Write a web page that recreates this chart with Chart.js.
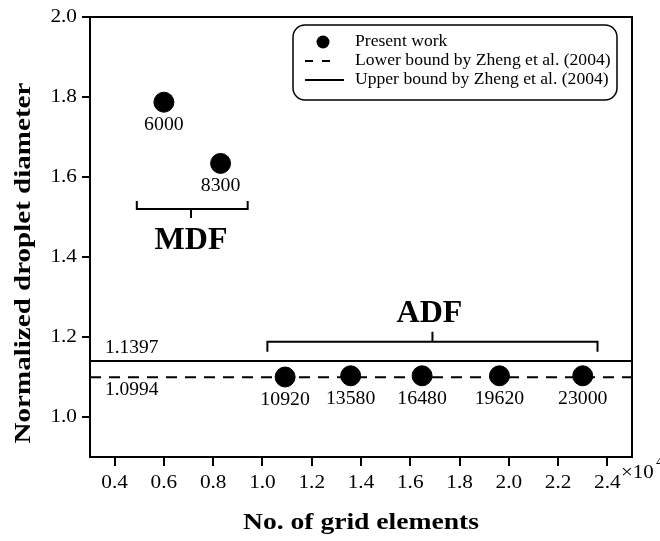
<!DOCTYPE html>
<html>
<head>
<meta charset="utf-8">
<script src="https://cdn.jsdelivr.net/npm/chart.js@4/dist/chart.umd.min.js"></script>
<style>
  html, body { margin: 0; padding: 0; background: #fff; }
  #wrap { width: 660px; height: 541px; position: relative; }
</style>
</head>
<body>
<div id="wrap"><canvas id="chart"></canvas></div>
<script>
// data
var gridElements = [6000, 8300, 10920, 13580, 16480, 19620, 23000];
var diameter = [1.787, 1.634, 1.100, 1.103, 1.103, 1.103, 1.103];
var pointLabels = ['6000', '8300', '10920', '13580', '16480', '19620', '23000'];
var lowerBound = 1.0994;
var upperBound = 1.1397;
var xRange = [3000, 25000];
var yRange = [0.9, 2.0];
var xTickValues = [4000, 6000, 8000, 10000, 12000, 14000, 16000, 18000, 20000, 22000, 24000];
var yTickValues = [1.0, 1.2, 1.4, 1.6, 1.8, 2.0];
var seriesNames = ['Present work', 'Lower bound by Zheng et al. (2004)', 'Upper bound by Zheng et al. (2004)'];

var SERIF = '"Liberation Serif", "Times New Roman", serif';

// brackets, in data units
var mdfBracket = { x0: 4900, x1: 9400, y: 1.52, mid: 7100, up: true, label: 'MDF' };
var adfBracket = { x0: 10200, x1: 23600, y: 1.188, mid: 16900, up: false, label: 'ADF' };

// the original lettering is a bit wider than Liberation Serif, so stretch it
function text(ctx, str, x, y, font, align, sx) {
    ctx.save();
    ctx.font = font;
    ctx.textAlign = align;
    ctx.textBaseline = 'middle';
    ctx.translate(x, y);
    ctx.scale(sx || 1, 1);
    ctx.fillText(str, 0, 0);
    ctx.restore();
}

var extras = {
    id: 'extras',
    afterDatasetsDraw: function (chart) {
        var ctx = chart.ctx;
        var xs = chart.scales.x, ys = chart.scales.y;
        var area = chart.chartArea;
        ctx.save();
        ctx.fillStyle = '#000';

        // full frame
        ctx.strokeStyle = '#000';
        ctx.lineWidth = 2;
        ctx.strokeRect(area.left, area.top, area.right - area.left, area.bottom - area.top);

        // tick labels, placed by the scales
        xs.ticks.forEach(function (t) {
            text(ctx, (t.value / 10000).toFixed(1), xs.getPixelForValue(t.value), area.bottom + 26, '19px ' + SERIF, 'center', 1.12);
        });
        ys.ticks.forEach(function (t) {
            text(ctx, t.value.toFixed(1), area.left - 13, ys.getPixelForValue(t.value), '19px ' + SERIF, 'right', 1.12);
        });

        // point labels under each dot
        var meta = chart.getDatasetMeta(0);
        meta.data.forEach(function (pt, i) {
            text(ctx, pointLabels[i], pt.x, pt.y + 23, '18px ' + SERIF, 'center', 1.1);
        });

        // bound values
        text(ctx, upperBound.toFixed(4), area.left + 15, ys.getPixelForValue(upperBound) - 13, '18px ' + SERIF, 'left', 1.08);
        text(ctx, lowerBound.toFixed(4), area.left + 15, ys.getPixelForValue(lowerBound) + 13, '18px ' + SERIF, 'left', 1.08);

        // brackets
        ctx.lineWidth = 2;
        [mdfBracket, adfBracket].forEach(function (b) {
            var x0 = xs.getPixelForValue(b.x0), x1 = xs.getPixelForValue(b.x1);
            var y = ys.getPixelForValue(b.y), xm = xs.getPixelForValue(b.mid);
            var arm = b.up ? -8 : 10;
            var tip = b.up ? 9 : -10;
            ctx.beginPath();
            ctx.moveTo(x0, y + arm);
            ctx.lineTo(x0, y);
            ctx.lineTo(x1, y);
            ctx.lineTo(x1, y + arm);
            ctx.moveTo(xm, y);
            ctx.lineTo(xm, y + tip);
            ctx.stroke();
            text(ctx, b.label, b.up ? xm : xm - 3, b.up ? y + 32 : y - 28, 'bold 32px ' + SERIF, 'center', 1);
        });

        // x10^4 multiplier
        text(ctx, '\u00d710', area.right - 11, area.bottom + 16, '19px ' + SERIF, 'left', 1.1);
        text(ctx, '4', area.right + 24, area.bottom + 5, '14px ' + SERIF, 'left', 1.1);

        // axis titles
        text(ctx, 'No. of grid elements', (area.left + area.right) / 2, 523, 'bold 24px ' + SERIF, 'center', 1.15);
        ctx.save();
        ctx.translate(24, 263);
        ctx.rotate(-Math.PI / 2);
        text(ctx, 'Normalized droplet diameter', 0, 0, 'bold 24px ' + SERIF, 'center', 1.21);
        ctx.restore();

        // legend box
        var lx = 293, ly = 25, lw = 324, lh = 75;
        ctx.lineWidth = 1.5;
        ctx.beginPath();
        ctx.roundRect(lx, ly, lw, lh, 12);
        ctx.fillStyle = '#fff';
        ctx.fill();
        ctx.stroke();
        ctx.fillStyle = '#000';
        var rows = [42, 61, 80];
        ctx.beginPath();
        ctx.arc(323, rows[0], 6.5, 0, Math.PI * 2);
        ctx.fill();
        ctx.lineWidth = 2;
        ctx.setLineDash([8, 9]);
        ctx.beginPath();
        ctx.moveTo(305, rows[1]);
        ctx.lineTo(331, rows[1]);
        ctx.stroke();
        ctx.setLineDash([]);
        ctx.beginPath();
        ctx.moveTo(305, rows[2]);
        ctx.lineTo(344, rows[2]);
        ctx.stroke();
        seriesNames.forEach(function (n, i) {
            text(ctx, n, 355, rows[i], '16px ' + SERIF, 'left', 1.1);
        });

        ctx.restore();
    }
};

var ctx = document.getElementById('chart').getContext('2d');
new Chart(ctx, {
    type: 'scatter',
    data: {
        datasets: [{
            label: seriesNames[0],
            data: gridElements.map(function (x, i) { return { x: x, y: diameter[i] }; }),
            backgroundColor: '#000',
            borderColor: '#000',
            pointRadius: 10,
            pointHoverRadius: 10,
            order: 0
        }, {
            type: 'line',
            label: seriesNames[1],
            data: [{ x: xRange[0], y: lowerBound }, { x: xRange[1], y: lowerBound }],
            borderColor: '#000',
            borderWidth: 2,
            borderDash: [11, 8],
            pointRadius: 0,
            order: 1
        }, {
            type: 'line',
            label: seriesNames[2],
            data: [{ x: xRange[0], y: upperBound }, { x: xRange[1], y: upperBound }],
            borderColor: '#000',
            borderWidth: 2,
            pointRadius: 0,
            order: 2
        }]
    },
    options: {
        responsive: true,
        maintainAspectRatio: false,
        animation: false,
        layout: { padding: { top: 17, right: 28, left: 0, bottom: 0 } },
        plugins: {
            legend: { display: false },
            tooltip: { enabled: false }
        },
        scales: {
            x: {
                type: 'linear',
                min: xRange[0],
                max: xRange[1],
                afterBuildTicks: function (scale) {
                    scale.ticks = xTickValues.map(function (v) { return { value: v }; });
                },
                afterFit: function (scale) { scale.height = 84; },
                grid: { display: true, drawOnChartArea: false, drawTicks: true, tickLength: 9, color: '#000', lineWidth: 2 },
                border: { display: true, color: '#000', width: 2 },
                ticks: { display: false }
            },
            y: {
                min: yRange[0],
                max: yRange[1],
                afterBuildTicks: function (scale) {
                    scale.ticks = yTickValues.map(function (v) { return { value: v }; });
                },
                afterFit: function (scale) { scale.width = 90; },
                grid: { display: true, drawOnChartArea: false, drawTicks: true, tickLength: 8, color: '#000', lineWidth: 2 },
                border: { display: true, color: '#000', width: 2 },
                ticks: { display: false }
            }
        }
    },
    plugins: [extras]
});
</script>
</body>
</html>
